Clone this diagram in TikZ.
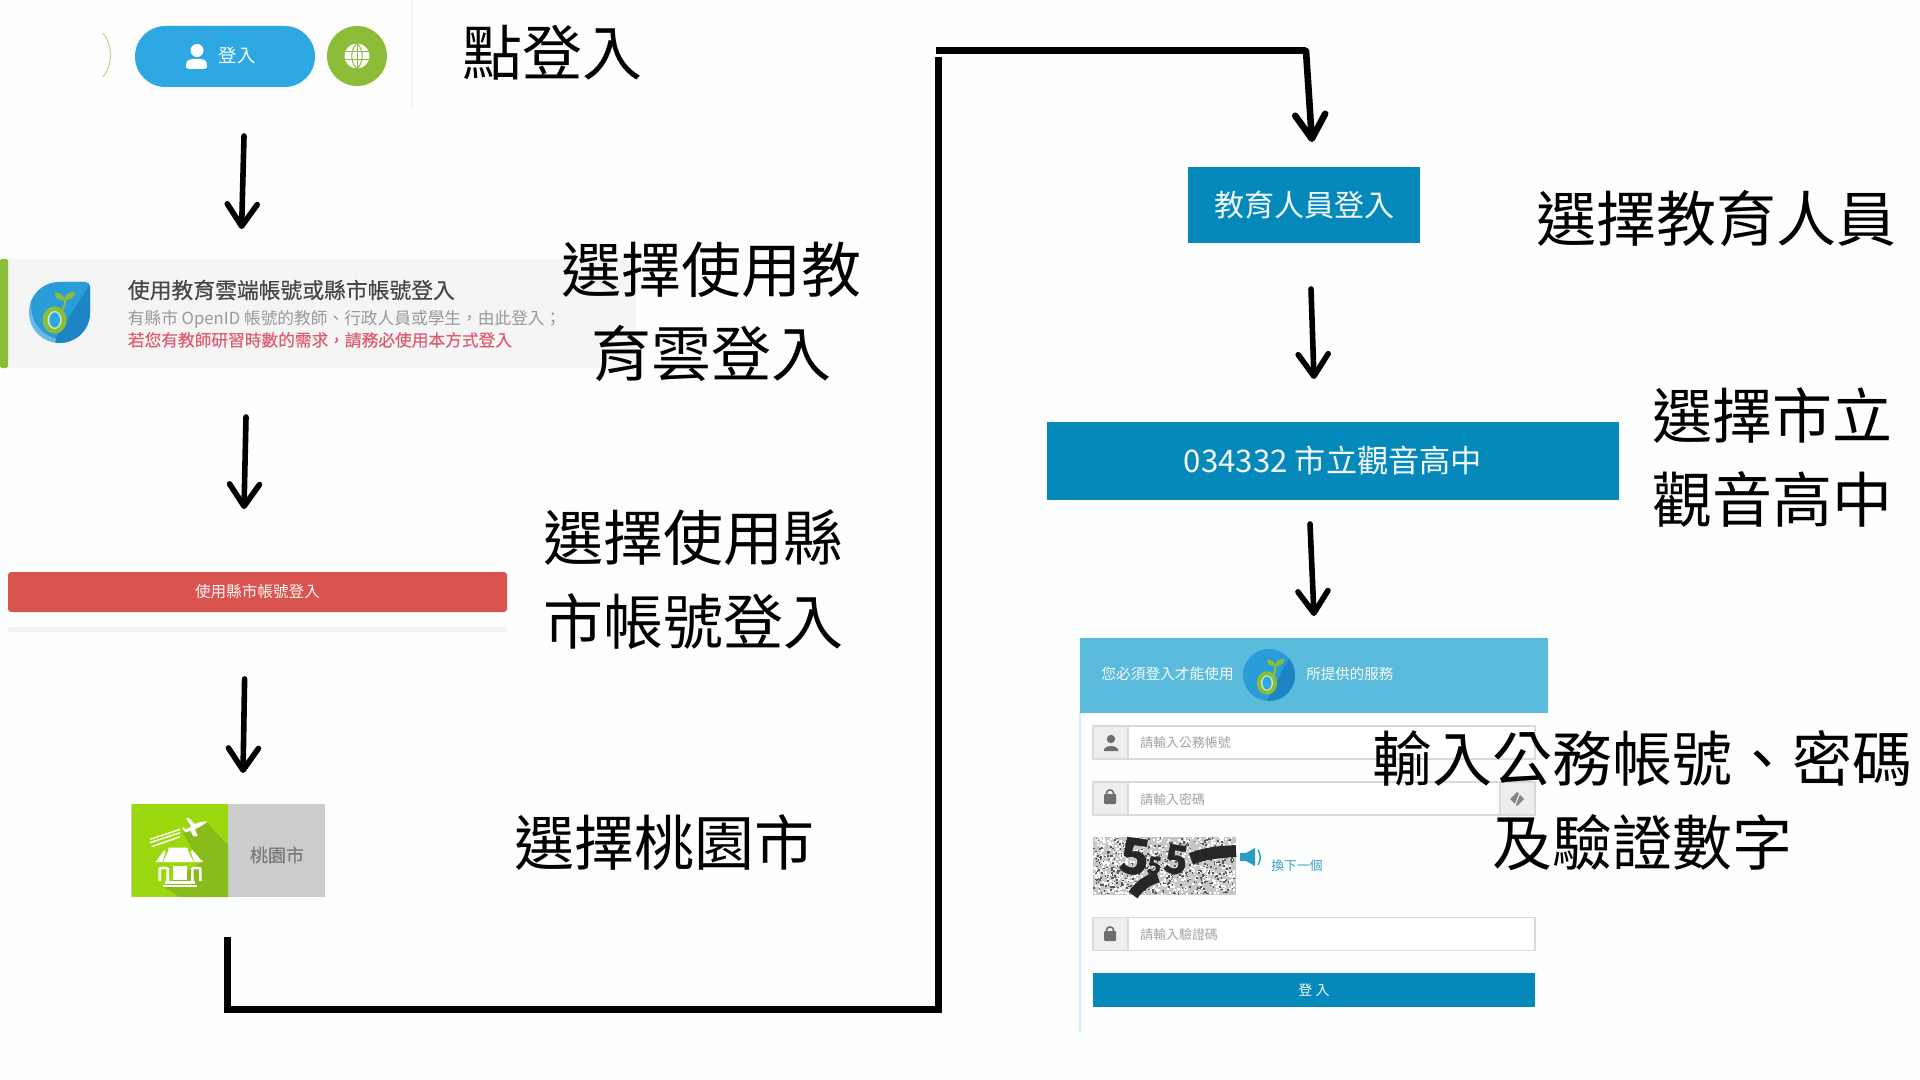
\documentclass[tikz,border=0pt]{standalone}
\usepackage{fontspec}
\setmainfont{Noto Sans CJK TC}
\newfontfamily\cjkmed{Noto Sans CJK TC}[FakeBold=0.4]
\usetikzlibrary{arrows.meta,calc}
\definecolor{pagebg}{HTML}{FDFEFE}
\definecolor{skyblue}{HTML}{2DA8E2}
\definecolor{logoblue}{HTML}{2A9CD8}
\definecolor{logodark}{HTML}{1E85C4}
\definecolor{leaf}{HTML}{8BBD38}
\definecolor{teal}{HTML}{0589BA}
\definecolor{headerblue}{HTML}{5BBBDD}
\definecolor{redbtn}{HTML}{D9534F}
\definecolor{pinkred}{HTML}{DD5C70}
\definecolor{tilegreen}{HTML}{9BD90E}
\definecolor{tileshade}{HTML}{87BC1A}
\definecolor{rowline}{HTML}{DADADA}
\definecolor{addon}{HTML}{EEEEEE}
\definecolor{icongrey}{HTML}{6E6E6E}
\definecolor{hint}{HTML}{A2A2A2}
\tikzset{
  panel/.style={inner sep=0pt,outer sep=0pt,draw=none},
  biglabel/.style={font=\fontsize{30}{36}\selectfont,text=black,inner sep=0pt,align=center},
  flowarrow/.style={line width=2.8pt,line cap=round,-{Straight Barb[length=11pt,width=15pt,round]}},
  bararrow/.style={line width=3.3pt,line cap=round,-{Straight Barb[length=12pt,width=15pt,round]}},
  barline/.style={line width=3.5pt,line join=miter},
  inputrow/.style={panel,draw=rowline,line width=0.6pt,fill=white,minimum width=221pt,minimum height=16.5pt},
  addonbox/.style={panel,draw=rowline,line width=0.6pt,fill=addon,minimum width=17.5pt,minimum height=16.5pt},
  hinttext/.style={inner sep=0pt,text=hint,font=\fontsize{6.45}{8}\selectfont,anchor=west},
}
% sprout glyph drawn round its ring centre, y upwards, in units of the current scope
\newcommand\sproutmark{%
  \draw[leaf,line width=1.1pt,line cap=round] (21,30) .. controls (30,40) and (32,50) .. (29,62);
  \fill[leaf] (29,60) .. controls (10,56) and (0,70) .. (0,82) .. controls (18,84) and (28,74) .. (29,60) -- cycle;
  \fill[leaf] (29,60) .. controls (48,58) and (60,70) .. (62,84) .. controls (44,86) and (30,78) .. (29,60) -- cycle;
  \fill[leaf] (0,0) ellipse [x radius=36,y radius=41];
  \fill[white!70!leaf] (0,0) ellipse [x radius=21,y radius=27];
  \fill[skyblue] (0,0) ellipse [x radius=16,y radius=23];
}
\newcommand\lockicon[1]{%
  \begin{scope}[shift={#1}]
    \draw[icongrey,line width=0.8pt] (-3.5,-2) -- (-3.5,-4) .. controls (-3.5,-8) and (3.5,-8) .. (3.5,-4) -- (3.5,-2);
    \fill[icongrey,rounded corners=0.5pt] (-6,-3) rectangle (6,7);
  \end{scope}}
\begin{document}
\begin{tikzpicture}[x=0.5pt,y=-0.5pt]
\useasboundingbox (0,0) rectangle (1920,1080);
\fill[pagebg] (0,0) rectangle (1920,1080);

% --- step 1: site header
\node[panel,fill=white!99.3!black,minimum width=156pt,minimum height=54pt] (hdr) at (256,54) {};
\draw[white!95!black,line width=0.7pt] (412,0) -- (412,108);
\draw[leaf!60!white,line width=0.5pt] (103,33) .. controls (113,46) and (113,64) .. (103,77);
\node[panel,fill=skyblue,rounded corners=15.2pt,minimum width=90pt,minimum height=30.5pt] (login) at (225,56.5) {};
\fill[white] (197,50.5) circle [radius=6.5];
\fill[white,rounded corners=1.5pt] (186,69) -- (186,65) .. controls (187,60) and (192,59) .. (197,59) .. controls (202,59) and (206,60) .. (207,65) -- (207,69) -- cycle;
\node[inner sep=0pt,text=white,font=\fontsize{9.2}{10}\selectfont] (logintxt) at (237,56) {登入};
\node[panel,circle,fill=leaf,minimum size=30pt] (globe) at (357,56) {};
\fill[white] (357,56) circle [radius=12.5];
\draw[leaf,line width=0.5pt] (344,52) -- (370,52) (344,60) -- (370,60) (357,43) -- (357,69);
\draw[leaf,line width=0.5pt] (357,43) .. controls (350,50) and (350,62) .. (357,69) (357,43) .. controls (364,50) and (364,62) .. (357,69);

% --- step 2: education cloud option
\node[panel,fill=white!96!black,minimum width=318pt,minimum height=54.5pt] (cloud) at (318,313.5) {};
\fill[leaf,rounded corners=0.8pt] (0,259) rectangle (8,368);
\begin{scope}
  \clip (59.5,282) -- (85,282) .. controls (88,282) and (90,284) .. (90,287) -- (90,312.5) .. controls (90,329.35) and (76.35,343) .. (59.5,343) .. controls (42.65,343) and (29,329.35) .. (29,312.5) .. controls (29,295.65) and (42.65,282) .. (59.5,282) -- cycle;
  \fill[logoblue!70!white] (28,281) rectangle (91,344);
  \fill[logoblue] (31,280) -- (91,280) -- (91,338) -- (60,340) .. controls (40,335) and (30,322) .. (31,300) -- cycle;
  \fill[logodark] (91,282) -- (91,345) -- (55,345) -- (56,338) -- (80,300) -- cycle;
\end{scope}
\begin{scope}[shift={(54.7,320)},x=0.1667pt,y=0.1667pt]
  \sproutmark
\end{scope}
\node[inner sep=0pt,anchor=west,text=black!72,font=\cjkmed\fontsize{10.9}{12}\selectfont] (cloudtitle) at (127.5,290) {使用教育雲端帳號或縣市帳號登入};
\node[inner sep=0pt,anchor=west,text=black!40,font=\fontsize{8.35}{10}\selectfont] (cloudline) at (127.5,319) {有縣市 OpenID 帳號的教師、行政人員或學生^^^^ff0c由此登入^^^^ff1b};
\node[inner sep=0pt,anchor=west,text=pinkred,font=\cjkmed\fontsize{8.35}{10}\selectfont] (cloudred) at (127.5,340) {若您有教師研習時數的需求^^^^ff0c請務必使用本方式登入};

% --- step 3: red button
\node[panel,fill=redbtn,rounded corners=1.5pt,minimum width=249.5pt,minimum height=20pt,text=white!95!redbtn,font=\fontsize{7.8}{9}\selectfont] (red) at (257.5,592) {使用縣市帳號登入};
\fill[white!95!black,rounded corners=1pt] (8,627) rectangle (507,632);

% --- step 4: Taoyuan tile
\node[panel,fill=white!80!black,minimum width=97pt,minimum height=46.5pt] (tile) at (228.25,850.5) {};
\fill[black!20!white] (324,804) rectangle (325,897);
\fill[tilegreen] (131.7,804) rectangle (228,897);
\fill[tileshade] (207,823) -- (228,845) -- (228,897) -- (180,897) -- (163,887) -- (200,863) -- (183,833) -- cycle;
\begin{scope}[shift={(125,800)},x=0.1667pt,y=-0.1667pt]
  \fill[white] (247,64) -- (225,66) -- (210,72) -- (190,53) -- (184,57) -- (199,79) -- (182,89) -- (176,82) -- (172,85) -- (182,97) -- (196,92) -- (205,108) -- (218,108) -- (210,88) -- (232,76) -- cycle;
  \draw[white,line width=0.7pt] (75,118) -- (165,88) (75,128) -- (165,98) (80,140) -- (165,110);
  \fill[white] (131,143) -- (188,143) -- (190,155) -- (206,186) -- (114,186) -- (129,155) -- cycle;
  \fill[white] (92,186) -- (118,150) -- (122,155) -- (112,186) -- cycle;
  \fill[white] (234,186) -- (202,150) -- (197,155) -- (208,186) -- cycle;
  \fill[white] (145,197) rectangle (186,240);
  \fill[white] (100,243) -- (100,205) .. controls (100,198) and (132,198) .. (132,205) -- (132,243) -- (124,243) -- (124,208) -- (108,208) -- (108,243) -- cycle;
  \fill[white] (198,243) -- (198,205) .. controls (198,198) and (230,198) .. (230,205) -- (230,243) -- (222,243) -- (222,208) -- (206,208) -- (206,243) -- cycle;
  \fill[white] (120,244) rectangle (210,251);
  \fill[white] (113,254) rectangle (215,261);
\end{scope}
\node[inner sep=0pt,text=black!52,font=\cjkmed\fontsize{9}{10}\selectfont] (tiletxt) at (277,855) {桃園市};

% --- right column
\node[panel,fill=teal,minimum width=116pt,minimum height=38pt,text=white!95!teal,font=\fontsize{15}{18}\selectfont] (edu) at (1304,205) {教育人員登入};
\node[panel,fill=teal,minimum width=286pt,minimum height=39pt,text=white!95!teal,font=\fontsize{15.6}{18}\selectfont] (city) at (1333,461) {034332 市立觀音高中};

% --- login form
\draw[blue!30!cyan!20!white,line width=0.8pt] (1080,713) -- (1080,1033);
\node[panel,fill=headerblue,minimum width=234pt,minimum height=37.5pt] (formhead) at (1314,675.5) {};
\node[inner sep=0pt,anchor=west,text=white!95!headerblue,font=\fontsize{7.35}{9}\selectfont] (headtxt1) at (1101,674) {您必須登入才能使用};
\node[inner sep=0pt,anchor=west,text=white!95!headerblue,font=\fontsize{7.25}{9}\selectfont] (headtxt2) at (1306,674) {所提供的服務};
\begin{scope}
  \clip (1269,675) circle [radius=26];
  \fill[logoblue] (1240,645) rectangle (1300,705);
  \fill[logodark] (1296,650) -- (1296,705) -- (1265,705) -- (1285,665) -- cycle;
\end{scope}
\begin{scope}[shift={(1267,683)},x=0.1417pt,y=0.1417pt]
  \sproutmark
\end{scope}
% inputs
\node[inputrow] (row1) at (1314,742.5) {};
\node[addonbox] (row1add) at (1110.5,742.5) {};
\fill[icongrey] (1111,739) circle [radius=4.2];
\fill[icongrey] (1104,751) -- (1104,749) .. controls (1106,745) and (1116,745) .. (1118,749) -- (1118,751) -- cycle;
\node[hinttext] (row1txt) at (1140,743) {請輸入公務帳號};
\node[inputrow] (row2) at (1314,798.5) {};
\node[addonbox] (row2add) at (1110.5,798.5) {};
\node[addonbox] (row2eye) at (1517.5,798.5) {};
\lockicon{(1110,797)}
\fill[icongrey!85!white] (1510,799) -- (1517,792) -- (1524,799) -- (1517,806) -- cycle;
\draw[addon,line width=0.6pt] (1521,790) -- (1514,808);
\node[hinttext] (row2txt) at (1140,800) {請輸入密碼};
\node[inputrow] (row3) at (1314,934) {};
\node[addonbox] (row3add) at (1110.5,934) {};
\lockicon{(1110,934)}
\node[hinttext] (row3txt) at (1140,935) {請輸入驗證碼};
\node[panel,fill=teal,minimum width=221pt,minimum height=17pt,text=white!95!teal,font=\fontsize{7}{8}\selectfont] (submit) at (1314,990) {登 入};
% captcha
\node[panel,fill=white!78!black,minimum width=71.5pt,minimum height=29pt] (captcha) at (1164.5,866) {};
\pgfmathsetseed{4242}
\foreach \i in {1,...,700}{
  \pgfmathsetmacro\cx{1093+rnd*141}
  \pgfmathsetmacro\cy{837+rnd*56}
  \fill[white] (\cx,\cy) rectangle ++(2,2);
}
\foreach \i in {1,...,450}{
  \pgfmathsetmacro\cx{1093+rnd*141}
  \pgfmathsetmacro\cy{837+rnd*56}
  \fill[black!65] (\cx,\cy) rectangle ++(1.6,1.6);
}
\draw[black!85,line width=6pt] (1191,859) .. controls (1205,853) and (1220,852) .. (1236,851);
\draw[black!85,line width=5.5pt] (1133,895) .. controls (1140,885) and (1148,880) .. (1158,877);
\node[inner sep=0pt,text=black!85,rotate=-8,font=\bfseries\fontsize{25}{28}\selectfont] (cap5a) at (1135,857) {5};
\node[inner sep=0pt,text=black!85,rotate=-8,font=\bfseries\fontsize{12}{14}\selectfont] (cap5b) at (1155,866) {5};
\node[inner sep=0pt,text=black!85,rotate=-8,font=\bfseries\fontsize{20}{24}\selectfont] (cap5c) at (1177,860) {5};
% speaker + link
\fill[teal!85!white] (1240,853) -- (1246,853) -- (1255,848) -- (1255,866) -- (1246,861) -- (1240,861) -- cycle;
\draw[teal!85!white,line width=0.7pt] (1258,850) .. controls (1261,855) and (1261,860) .. (1258,865);
\node[inner sep=0pt,anchor=west,text=teal!80!white,font=\fontsize{6.4}{8}\selectfont] (swap) at (1271,866) {換下一個};

% --- connectors
\coordinate (a1s) at ([shift={(19,49)}]login.south);
\coordinate (a1e) at ([shift={(-76.4,-30)}]cloud.north);
\coordinate (a2s) at ([shift={(-72,49)}]cloud.south);
\coordinate (a2e) at ([shift={(-13.5,-63)}]red.north);
\coordinate (a3s) at ([shift={(-12.9,67)}]red.south);
\coordinate (a3e) at ([shift={(14.75,-31)}]tile.north);
\coordinate (a4s) at ([shift={(-1.25,40)}]tile.south);
\coordinate (b1) at ($(a4s)+(0,72)$);
\coordinate (b2) at (938,1009);
\coordinate (b3) at (938,57);
\coordinate (c1) at (936,51);
\coordinate (c2) at (1306,51);
\coordinate (a4e) at ([shift={(8,-25)}]edu.north);
\coordinate (a5s) at ([shift={(7,46)}]edu.south);
\coordinate (a5e) at ([shift={(-19,-43)}]city.north);
\coordinate (a6s) at ([shift={(-23,24)}]city.south);
\coordinate (a6e) at ([shift={(0,-22)}]formhead.north);
\draw[flowarrow] (a1s) -- (a1e);
\draw[flowarrow] (a2s) -- (a2e);
\draw[flowarrow] (a3s) -- (a3e);
\draw[barline] (a4s) -- (b1) -- (b2) -- (b3);
\draw[barline] (c1) -- (c2);
\draw[bararrow] (c2) -- (a4e);
\draw[flowarrow] (a5s) -- (a5e);
\draw[flowarrow] (a6s) -- (a6e);

% --- captions
\node[biglabel] (l1) at (552,53) {點登入};
\node[biglabel] (l2) at (711,312) {選擇使用教\\[6pt]育雲登入};
\node[biglabel] (l3) at (693,580) {選擇使用縣\\[6pt]市帳號登入};
\node[biglabel] (l4) at (664.5,843) {選擇桃園市};
\node[biglabel] (l5) at (1716.5,219) {選擇教育人員};
\node[biglabel] (l6) at (1772,458) {選擇市立\\[6pt]觀音高中};
\node[biglabel] (l7) at (1642,801) {輸入公務帳號、密碼\\[6pt]及驗證數字};
\end{tikzpicture}
\end{document}
